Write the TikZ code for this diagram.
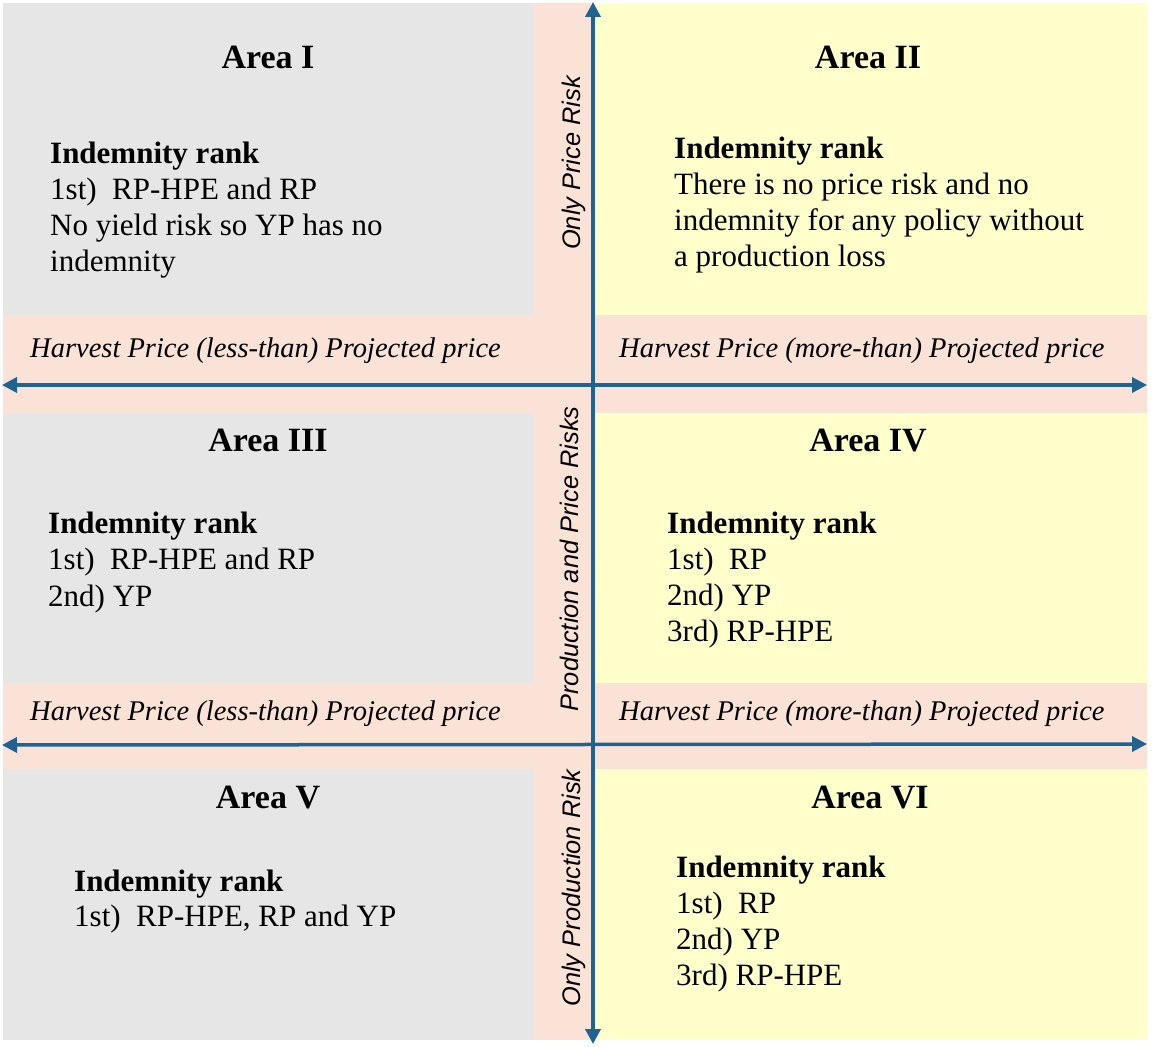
\documentclass[tikz,border=0pt]{standalone}
\usepackage{fontspec}
\setmainfont{Liberation Serif}
\setsansfont{Liberation Sans}
\usetikzlibrary{arrows.meta}
\definecolor{grayfill}{HTML}{E7E6E6}
\definecolor{pinkfill}{HTML}{FBE2D7}
\definecolor{yellowfill}{HTML}{FFFFCC}
\definecolor{axiscol}{HTML}{1F6391}
\begin{document}
\begin{tikzpicture}[x=1pt,y=-1pt,
  title/.style={font=\fontsize{34}{40}\selectfont\bfseries, inner sep=0pt, anchor=base},
  head/.style={font=\fontsize{31}{36}\selectfont\bfseries, inner sep=0pt, anchor=base west},
  body/.style={font=\fontsize{31}{36}\selectfont, inner sep=0pt, anchor=base west},
  hlab/.style={font=\fontsize{28.5}{34}\selectfont\itshape, inner sep=0pt, anchor=base west},
  vlab/.style={font=\fontsize{25.4}{30}\selectfont\sffamily\itshape, inner sep=0pt, rotate=90, anchor=base},
  axisline/.style={draw=axiscol, line width=3.5pt, {Triangle[length=15pt,width=15pt]}-{Triangle[length=15pt,width=15pt]}}
]
\useasboundingbox (0,0) rectangle (1153,1046);
% backgrounds
\fill[white] (0,0) rectangle (1153,1046);
\fill[grayfill] (3,3) rectangle (533,1040);
\fill[yellowfill] (591,3) rectangle (1147,1040);
\fill[pinkfill] (533,3) rectangle (591,1040);
\fill[pinkfill] (3,315) rectangle (1147,413);
\fill[pinkfill] (3,683) rectangle (1147,769);

% axes
\coordinate (vtop) at (593,2);
\coordinate (vbot) at (593,1044);
\coordinate (h1l) at (2,385);
\coordinate (h1r) at (1147,385);
\coordinate (h2l) at (2,745);
\coordinate (h2r) at (1147,744);
\draw[axisline] (vbot) -- (vtop);
\draw[axisline] (h1l) -- (h1r);
\draw[axisline] (h2l) -- (h2r);

% horizontal labels
\node[hlab] (hl1) at (30,357) {Harvest Price (less-than) Projected price};
\node[hlab] (hr1) at (619,357) {Harvest Price (more-than) Projected price};
\node[hlab] (hl2) at (30,720) {Harvest Price (less-than) Projected price};
\node[hlab] (hr2) at (619,720) {Harvest Price (more-than) Projected price};

% vertical labels
\node[vlab] (v1) at (580,163) {Only Price Risk};
\node[vlab] (v2) at (578,559) {Production and Price Risks};
\node[vlab] (v3) at (580,888) {Only Production Risk};

% Area I
\node[title] (t1) at (268,69) {Area I};
\node[head] (a1h) at (50,163) {Indemnity rank};
\node[body] (a1a) at (50,199) {1st)\ \ RP-HPE and RP};
\node[body] (a1b) at (50,235) {No yield risk so YP has no};
\node[body] (a1c) at (50,271) {indemnity};

% Area II
\node[title] (t2) at (868,69) {Area II};
\node[head] (a2h) at (674,158) {Indemnity rank};
\node[body] (a2a) at (674,194) {There is no price risk and no};
\node[body] (a2b) at (674,230) {indemnity for any policy without};
\node[body] (a2c) at (674,266) {a production loss};

% Area III
\node[title] (t3) at (268,451) {Area III};
\node[head] (a3h) at (48,533) {Indemnity rank};
\node[body] (a3a) at (48,569) {1st)\ \ RP-HPE and RP};
\node[body] (a3b) at (48,606) {2nd) YP};

% Area IV
\node[title] (t4) at (868,451) {Area IV};
\node[head] (a4h) at (667,533) {Indemnity rank};
\node[body] (a4a) at (667,569) {1st)\ \ RP};
\node[body] (a4b) at (667,605) {2nd) YP};
\node[body] (a4c) at (667,641) {3rd) RP-HPE};

% Area V
\node[title] (t5) at (268,808) {Area V};
\node[head] (a5h) at (74,891) {Indemnity rank};
\node[body] (a5a) at (74,926) {1st)\ \ RP-HPE, RP and YP};

% Area VI
\node[title] (t6) at (870,808) {Area VI};
\node[head] (a6h) at (676,877) {Indemnity rank};
\node[body] (a6a) at (676,913) {1st)\ \ RP};
\node[body] (a6b) at (676,949) {2nd) YP};
\node[body] (a6c) at (676,985) {3rd) RP-HPE};
\end{tikzpicture}
\end{document}
